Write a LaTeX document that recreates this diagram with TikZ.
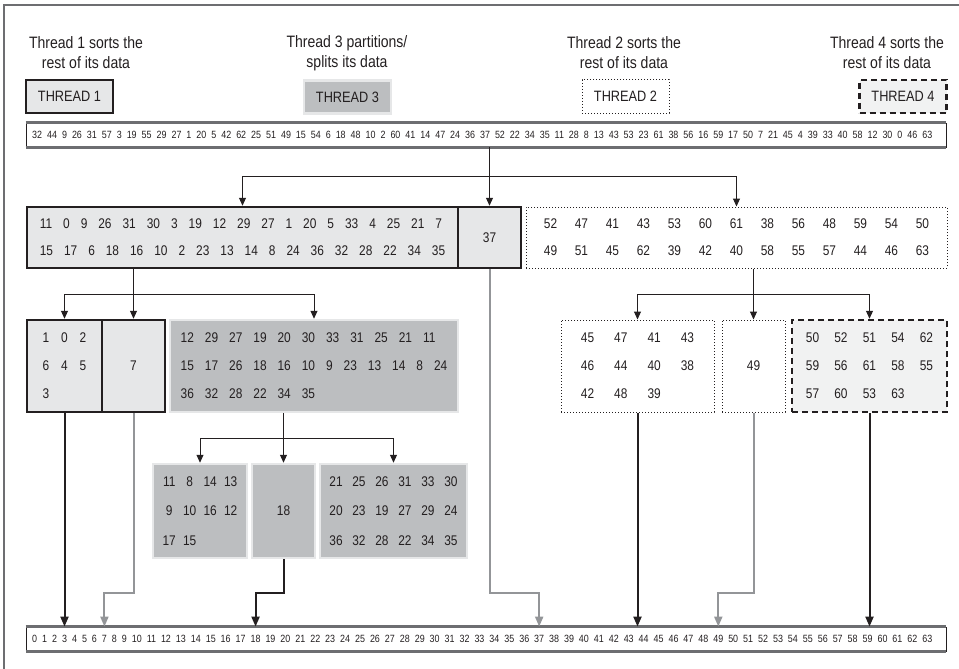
\documentclass[tikz,border=0pt]{standalone}
\usepackage{fontspec}
\setmainfont{Liberation Sans}[FakeStretch=0.85]
\usetikzlibrary{arrows.meta,positioning,calc}
\definecolor{inkdark}{HTML}{231F20}
\definecolor{lightfill}{HTML}{E6E7E8}
\definecolor{midfill}{HTML}{BCBEC0}
\definecolor{palefill}{HTML}{F1F2F2}
\definecolor{arrowgray}{HTML}{939598}
\definecolor{edgegray}{HTML}{6D6E71}
% numbers in fixed columns / with a fixed gap
\newcommand\cellrow[2]{\foreach \n in {#2}{\makebox[#1]{\n}}}
\newcommand\gaprow[2]{\gdef\gapsep{}\foreach \n in {#2}{\gapsep\n\gdef\gapsep{\hspace*{#1}}}}

\begin{document}
\begin{tikzpicture}[
x=1pt, y=-1pt,
caption/.style={align=center, text=inkdark, font=\fontsize{16.5pt}{20pt}\selectfont},
threadkey/.style={text=inkdark, inner sep=0pt, minimum width=87pt, minimum height=33pt, font=\fontsize{15pt}{18pt}\selectfont},
byone/.style={draw=inkdark, line width=2.5pt, fill=lightfill},
bythree/.style={draw=lightfill, line width=2.5pt, fill=midfill},
bytwo/.style={draw=inkdark, line width=1pt, dotted},
byfour/.style={draw=inkdark, line width=2.5pt, dash pattern=on 6pt off 4pt, fill=palefill},
group/.style={inner sep=0pt, align=left, text=inkdark, font=\fontsize{14pt}{28pt}\selectfont},
num/.style={inner sep=0pt, text=inkdark, text height=7.6pt, text depth=0pt, font=\fontsize{10.5pt}{12pt}\selectfont},
rowbox/.style={draw=inkdark, line width=0.8pt, minimum width=920pt, minimum height=24pt},
rowedge/.style={draw=edgegray, line width=2.5pt},
link/.style={line width=1pt, draw=inkdark},
arr/.style={link, -{Triangle[length=8pt,width=7pt]}},
sortedarr/.style={-{Triangle[length=10pt,width=8pt]}, line width=2pt, draw=inkdark},
pendingarr/.style={sortedarr, draw=arrowgray}
]
\useasboundingbox (0,0) rectangle (959,669);
\draw[edgegray, line width=1.5pt] (4,669) -- (4,5) -- (959,5);

% Title labels
\node[caption] (cap1) at (86,53) {Thread 1 sorts the\\rest of its data};
\node[caption] (cap3) at (347,53) {Thread 3 partitions/\\splits its data};
\node[caption] (cap2) at (624,53) {Thread 2 sorts the\\rest of its data};
\node[caption] (cap4) at (887,53) {Thread 4 sorts the\\rest of its data};

\node[threadkey, byone] (key1) at (69.5,96.5) {THREAD 1};
\node[threadkey, bythree] (key3) at (347.5,97) {THREAD 3};
\node[threadkey, bytwo] (key2) at (625.5,96.5) {THREAD 2};
\node[threadkey, byfour] (key4) at (903,96.5) {THREAD 4};

% Unsorted input
\node[rowbox] (row) at (486,135) {};
\draw[rowedge] (row.north west) -- (row.north east);
\draw[rowedge] (row.south west) -- (row.south east);
\node[num, anchor=west] (a1) at (32,135) {32};
\foreach \v [count=\i from 2] in {44,9,26,31,57,3,19,55,29,27,1,20,5,42,62,25,51,49,15,54,6,18,48,10,2,60,41,14,47,24,36,37,52,22,34,35,11,28,8,13,43,53,23,61,38,56,16,59,17,50,7,21,45,4,39,33,40,58,12,30,0,46,63} {
  \pgfmathtruncatemacro\last{\i-1}
  \node[num, right=4.6pt of a\last] (a\i) {\v};
}

% First split (pivot 37)
\node[byone, group, minimum width=431pt, minimum height=61pt, font=\fontsize{14pt}{27pt}\selectfont] (lo1) at (242.5,237.5)
  {\gaprow{11pt}{11,0,9,26,31,30,3,19,12,29,27,1,20,5,33,4,25,21,7}\\
   \gaprow{11pt}{15,17,6,18,16,10,2,23,13,14,8,24,36,32,28,22,34,35}};
\node[byone, group, minimum width=63pt, minimum height=61pt] (p37) at (489.5,237.5) {37};
\node[bytwo, group, minimum width=421pt, minimum height=61pt, font=\fontsize{14pt}{27pt}\selectfont] (hi1) at (736.5,237.5)
  {\cellrow{31pt}{52,47,41,43,53,60,61,38,56,48,59,54,50}\\
   \cellrow{31pt}{49,51,45,62,39,42,40,58,55,57,44,46,63}};

\coordinate (s1) at ($(row.south -| p37)!.5!(p37.north)$);
\draw[link] (row.south -| p37) -- (s1);
\draw[arr] (s1) -- (p37.north);
\draw[arr] (s1) -| (lo1.north);
\draw[arr] (s1) -| (hi1.north);

% Second split (pivots 7 and 49)
\node[byone, group, minimum width=75pt, minimum height=92pt] (lo2) at (64.5,366)
  {\cellrow{18.5pt}{1,0,2}\\ \cellrow{18.5pt}{6,4,5}\\ \cellrow{18.5pt}{3}};
\node[byone, group, minimum width=63pt, minimum height=92pt] (p7) at (133.5,366) {7};
\node[bythree, group, minimum width=288pt, minimum height=92pt] (mid2) at (314,366)
  {\gaprow{11pt}{12,29,27,19,20,30,33,31,25,21,11}\\
   \gaprow{11pt}{15,17,26,18,16,10,9,23,13,14,8,24}\\
   \gaprow{11pt}{36,32,28,22,34,35}};

\node[bytwo, group, minimum width=153pt, minimum height=92pt] (hi2a) at (637.5,366)
  {\cellrow{33.3pt}{45,47,41,43}\\ \cellrow{33.3pt}{46,44,40,38}\\ \cellrow{33.3pt}{42,48,39}};
\node[bytwo, group, minimum width=63pt, minimum height=92pt] (p49) at (753.5,366) {49};
\node[byfour, group, minimum width=155pt, minimum height=92pt] (hi2b) at (869.5,366)
  {\cellrow{28.5pt}{50,52,51,54,62}\\ \cellrow{28.5pt}{59,56,61,58,55}\\ \cellrow{28.5pt}{57,60,53,63}};

\coordinate (s2) at ($(lo1.south -| p7)!.5!(p7.north)$);
\draw[link] (lo1.south -| p7) -- (s2);
\draw[arr] (s2) -- (p7.north);
\draw[arr] (s2) -| (lo2.north);
\draw[arr] (s2) -| (mid2.north);

\coordinate (s3) at ($(hi1.south -| p49)!.5!(p49.north)$);
\draw[link] (hi1.south -| p49) -- (s3);
\draw[arr] (s3) -- (p49.north);
\draw[arr] (s3) -| (hi2a.north);
\draw[arr] (s3) -| (hi2b.north);

% Thread 3 splits again (pivot 18)
\node[bythree, group, minimum width=94pt, minimum height=94pt, font=\fontsize{14pt}{29.5pt}\selectfont] (lo3) at (200,511)
  {\cellrow{20.5pt}{11,8,14,13}\\ \cellrow{20.5pt}{9,10,16,12}\\ \cellrow{20.5pt}{17,15}};
\node[bythree, group, minimum width=63pt, minimum height=94pt] (p18) at (283.5,511) {18};
\node[bythree, group, minimum width=147pt, minimum height=94pt, font=\fontsize{14pt}{29.5pt}\selectfont] (hi3) at (393.5,511)
  {\cellrow{23pt}{21,25,26,31,33,30}\\ \cellrow{23pt}{20,23,19,27,29,24}\\ \cellrow{23pt}{36,32,28,22,34,35}};

\coordinate (s4) at ($(mid2.south -| p18)!.5!(p18.north)$);
\draw[link] (mid2.south -| p18) -- (s4);
\draw[arr] (s4) -- (p18.north);
\draw[arr] (s4) -| (lo3.north);
\draw[arr] (s4) -| (hi3.north);

% Sorted output
\node[rowbox] (brow) at (486,639) {};
\draw[rowedge] (brow.north west) -- (brow.north east);
\draw[rowedge] (brow.south west) -- (brow.south east);
\node[num, anchor=west] (b0) at (32,639) {0};
\foreach \i in {1,...,63} {
  \pgfmathtruncatemacro\last{\i-1}
  \node[num, right=4.6pt of b\last] (b\i) {\i};
}

\coordinate (bend) at (0,593);
\draw[sortedarr] (lo2.south) -- (lo2.south |- brow.north);
\draw[pendingarr] (p7.south) |- (bend -| b7) -- (b7 |- brow.north);
\draw[sortedarr] (p18.south) |- (bend -| b18) -- (b18 |- brow.north);
\draw[pendingarr] (p37.south) |- (bend -| b37) -- (b37 |- brow.north);
\draw[sortedarr] (hi2a.south) -- (hi2a.south |- brow.north);
\draw[pendingarr] (p49.south) |- (bend -| b49) -- (b49 |- brow.north);
\draw[sortedarr] (hi2b.south) -- (hi2b.south |- brow.north);

\end{tikzpicture}
\end{document}
